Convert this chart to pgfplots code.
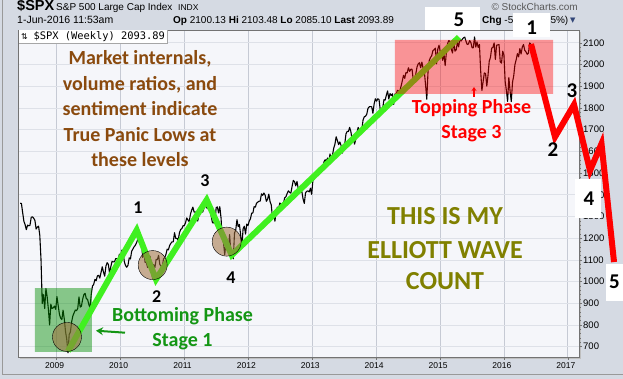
\documentclass[border=0pt]{standalone}
\usepackage{pgfplots}
\pgfplotsset{compat=1.18}
\usepackage{pgfplotstable}
\usetikzlibrary{arrows.meta}
\usepackage{fontspec}
\setmainfont{Liberation Sans}
\newfontfamily\carl{Carlito}
\newfontfamily\dvmono{DejaVu Sans Mono}
\newfontfamily\dvsans{DejaVu Sans}
\definecolor{outerbg}{RGB}{213,218,227}
\definecolor{plotbg}{RGB}{245,246,250}
\definecolor{gridmaj}{RGB}{198,202,212}
\definecolor{gridmin}{RGB}{222,225,232}
\definecolor{wavegreen}{RGB}{64,240,32}
\definecolor{txtbrown}{RGB}{138,74,14}
\definecolor{txtolive}{RGB}{128,128,0}
\definecolor{txtgreen}{RGB}{20,150,20}
\definecolor{tanc}{RGB}{160,110,60}
\definecolor{boxgreen}{RGB}{0,140,0}
\definecolor{tri}{RGB}{50,70,120}

\pgfplotstableread{
c
1361
1360
1317
1278
1262
1239
1260
1257
1260
1296
1298
1292
1282
1242
1251
1255
1213
1099
899
940
876
968
930
873
800
896
876
879
887
872
931
890
850
832
825
868
827
770
735
672
756
768
815
842
856
869
866
877
929
882
887
919
940
946
921
918
896
879
940
979
987
1010
1004
1026
1029
1016
1042
1068
1044
1025
1071
1087
1079
1036
1069
1093
1091
1091
1106
1106
1102
1126
1115
1145
1136
1092
1074
1066
1075
1109
1104
1139
1150
1160
1167
1179
1194
1192
1217
1187
1111
1136
1088
1089
1065
1092
1117
1076
1015
1078
1065
1102
1101
1121
1079
1071
1065
1105
1110
1125
1149
1146
1166
1176
1183
1183
1225
1199
1199
1189
1224
1240
1244
1257
1258
1271
1293
1283
1276
1310
1329
1343
1320
1321
1304
1279
1314
1332
1328
1320
1337
1364
1340
1338
1333
1331
1300
1271
1271
1268
1340
1344
1316
1345
1292
1199
1179
1124
1177
1174
1154
1216
1136
1131
1105
1224
1238
1285
1253
1263
1216
1159
1244
1255
1219
1265
1258
1278
1289
1315
1316
1345
1343
1361
1366
1370
1371
1404
1397
1408
1398
1370
1379
1403
1369
1353
1295
1318
1278
1325
1343
1335
1362
1355
1357
1362
1386
1391
1406
1418
1411
1407
1438
1466
1460
1441
1461
1429
1433
1412
1414
1380
1360
1409
1416
1418
1413
1430
1402
1466
1472
1486
1503
1513
1518
1520
1516
1518
1551
1561
1556
1569
1553
1588
1555
1582
1614
1633
1667
1650
1631
1643
1627
1592
1606
1632
1680
1692
1691
1710
1691
1656
1664
1633
1655
1688
1710
1692
1690
1703
1745
1759
1762
1771
1798
1805
1806
1805
1775
1818
1842
1831
1842
1839
1790
1783
1797
1838
1836
1859
1878
1841
1866
1857
1865
1816
1864
1863
1881
1878
1878
1900
1924
1950
1936
1963
1961
1985
1968
1978
1978
1925
1931
1955
1988
2003
2008
1985
2011
1982
1968
1906
1840
1965
2018
2032
2040
2064
2068
2075
2003
2071
2089
2058
2044
2019
2051
1995
2055
2097
2110
2105
2071
2053
2108
2061
2067
2102
2081
2117
2108
2116
2123
2126
2107
2092
2094
2110
2101
2077
2077
2127
2080
2104
2078
2092
1971
1880
1921
1961
1958
1900
1951
2015
2033
2075
2079
2099
2023
2089
2090
2092
2012
2006
2061
2044
1922
1880
1830
1940
1880
1829
1918
1948
2000
2022
2050
2035
2073
2048
2081
2092
2065
2058
2047
2052
2099
2094
}\spx

\begin{document}
\begin{tikzpicture}
\useasboundingbox (0,0) rectangle (623pt,379pt);
\begin{scope}[x=1pt,y=1pt]
\fill[outerbg] (0,0) rectangle (623,379);
\draw[black!40, line width=1pt] (2.5,4.5) rectangle (626,380);
\fill[black!25] (20.3,20) rectangle (581,22);
\fill[black!25] (579,20) rectangle (581,347);
\end{scope}
\begin{axis}[
  at={(18.3pt,22pt)}, anchor=south west,
  scale only axis, width=560.7pt, height=327pt,
  xmin=2008.399, xmax=2017.174, ymin=652.6, ymax=2158.8,
  clip=false,
  axis background/.style={fill=plotbg},
  axis line style={draw=black!55, line width=0.8pt},
  xtick={2009,...,2017}, minor x tick num=3,
  ytick={700,800,...,2100}, minor y tick num=4,
  xtick pos=bottom, ytick pos=right, yticklabel pos=right,
  tick align=outside, major tick length=3pt, minor tick length=1.5pt,
  tick style={black!55, line width=0.5pt},
  xmajorgrids, xminorgrids, ymajorgrids,
  major x grid style={gridmaj, line width=0.7pt},
  minor x grid style={gridmin, line width=0.7pt},
  major y grid style={gridmin, line width=0.7pt},
  /pgf/number format/1000 sep={},
  /pgf/number format/assume math mode=true,
  yticklabel style={font=\fontsize{9.5}{10}\selectfont, anchor=west, inner sep=0pt, xshift=1pt},
  xticklabel style={font=\fontsize{8.5}{10}\selectfont, anchor=north, inner sep=0pt, xshift=-2pt, yshift=-2pt},
]
\addplot[black, line width=1.1pt, line join=round] table[x expr={2008.429+\coordindex*0.019165}, y=c] {\spx};
\addplot[only marks, mark=*, mark size=14.5pt, mark options={draw=none, fill=tanc, fill opacity=0.55}] coordinates {(2009.161,745) (2010.502,1076) (2011.660,1184)};
\addplot[draw=none, fill=boxgreen, fill opacity=0.45] coordinates {(2008.660,676) (2009.552,676) (2009.552,970) (2008.660,970) (2008.660,676)};
\addplot[wavegreen, line width=6pt, line join=miter] coordinates {(2009.177,680) (2010.252,1237) (2010.554,1010) (2011.347,1376) (2011.739,1122) (2015.296,2126)};
\addplot[draw=none, fill=red, fill opacity=0.4] coordinates {(2014.294,1864) (2016.767,1864) (2016.767,2113) (2014.294,2113) (2014.294,1864)};
\addplot[red, line width=6pt, line join=miter] coordinates {(2016.423,2094) (2016.798,1666) (2017.096,1815) (2017.346,1511) (2017.526,1635) (2017.722,1090)};
\end{axis}
\begin{scope}[x=1pt,y=1pt]
% header
\node[anchor=base west, inner sep=0pt, font=\fontsize{14.5}{14}\selectfont\bfseries] at (17,368.5) {\$SPX};
\node[anchor=base west, inner sep=0pt, font=\fontsize{10}{10}\selectfont] at (56,368.5) {S\&P 500 Large Cap Index};
\node[anchor=base west, inner sep=0pt, font=\fontsize{8.5}{10}\selectfont] at (178,368.5) {INDX};
\node[anchor=base west, inner sep=0pt, font=\fontsize{10.5}{10}\selectfont] at (17,355) {1-Jun-2016 11:53am};
\node[anchor=base west, inner sep=0pt, font=\fontsize{10}{10}\selectfont] at (173,355) {\textbf{Op} 2100.13 \textbf{Hi} 2103.48 \textbf{Lo} 2085.10 \textbf{Last} 2093.89};
\node[anchor=base west, inner sep=0pt, font=\fontsize{10}{10}\selectfont] at (482,355) {\textbf{Chg} -5.74 (-0.25\%)};
\node[anchor=base west, inner sep=0pt, text=tri, font=\dvsans\fontsize{7}{7}\selectfont] at (570,356) {▼};
\node[anchor=base east, inner sep=0pt, text=black!65, font=\fontsize{10}{10}\selectfont] at (578,368) {© StockCharts.com};
% legend box
\fill[white] (18.7,336) rectangle (167,348.6);
\draw[black!35, line width=0.6pt] (167,348.6) -- (167,336) -- (18.7,336);
\node[anchor=base west, inner sep=0pt, font=\dvsans\fontsize{8}{8}\selectfont] at (21,339.5) {⇅};
\node[anchor=base west, inner sep=0pt, font=\dvmono\fontsize{10.4}{10}\selectfont] at (33.3,339.5) {\$SPX (Weekly) 2093.89};
% annotation texts
\begin{scope}[every node/.style={anchor=base, inner sep=0pt, font=\carl\bfseries\fontsize{20}{24}\selectfont}]
\node[text=txtbrown] at (140,314) {Market internals,};
\node[text=txtbrown] at (140,288.5) {volume ratios, and};
\node[text=txtbrown] at (140,263) {sentiment indicate};
\node[text=txtbrown] at (140,237.5) {True Panic Lows at};
\node[text=txtbrown] at (140,212) {these levels};
\node[text=red] at (471.5,265.7) {Topping Phase};
\node[text=red] at (471.5,240.7) {Stage 3};
\node[text=txtgreen] at (182.5,57.3) {Bottoming Phase};
\node[text=txtgreen] at (182.5,32.3) {Stage 1};
\end{scope}
\begin{scope}[every node/.style={anchor=base, inner sep=0pt, text=txtolive, font=\carl\bfseries\fontsize{26}{30}\selectfont}]
\node at (445,154) {THIS IS MY};
\node at (445,120.7) {ELLIOTT WAVE};
\node at (445,89) {COUNT};
\end{scope}
% arrows
\draw[txtgreen, line width=2pt, -{Stealth[length=7pt,width=8pt]}] (125,46.3) -- (96,48.3);
\draw[red, line width=1.2pt, -{Stealth[length=4pt,width=5pt]}] (474,282) -- (474,292);
% white boxes
\fill[white] (425,349) rectangle (480,372);
\fill[white] (513,342) rectangle (550,366);
\fill[white] (575,161) rectangle (601,200);
\fill[white] (606,78) rectangle (623,115);
% wave numbers
\begin{scope}[every node/.style={anchor=center, inner sep=0pt, font=\carl\bfseries\fontsize{18}{20}\selectfont}]
\node at (138,171) {1};
\node at (156.7,82) {2};
\node at (205,198) {3};
\node at (231,101) {4};
\end{scope}
\begin{scope}[every node/.style={anchor=center, inner sep=0pt, font=\carl\bfseries\fontsize{21}{22}\selectfont}]
\node at (459,359) {5};
\node at (531.7,351.7) {1};
\node at (553,229) {2};
\node at (572,288) {3};
\node at (589,180) {4};
\node at (614.5,97) {5};
\end{scope}
\end{scope}
\end{tikzpicture}
\end{document}
